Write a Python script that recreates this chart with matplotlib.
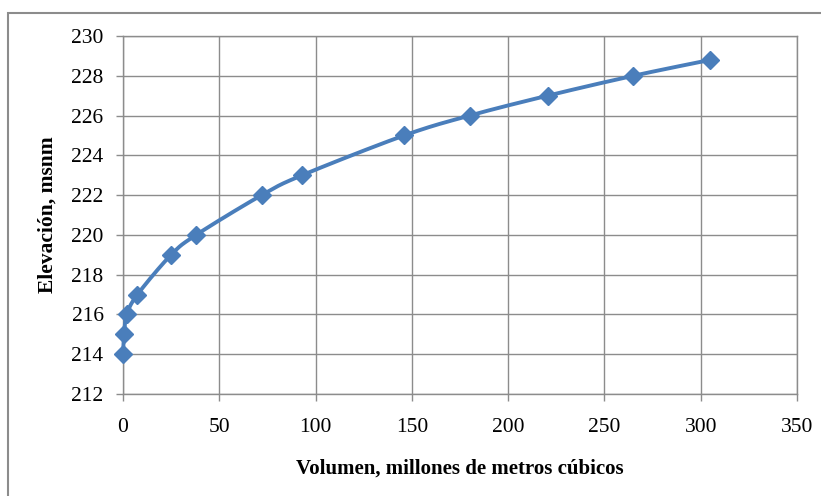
import numpy as np
import matplotlib.pyplot as plt
from matplotlib.patches import Rectangle

# Datos de la curva elevación-volumen
volumen = [0, 0.5, 2, 7.5, 25, 38, 72, 93, 146, 180, 220.5, 265, 305]
elevacion = [214, 215, 216, 217, 219, 220, 222, 223, 225, 226, 227, 228, 228.8]

x_ticks = [0, 50, 100, 150, 200, 250, 300, 350]
y_ticks = [212, 214, 216, 218, 220, 222, 224, 226, 228, 230]


def suavizar(px, py, n=30):
    # Curva tipo Catmull-Rom (similar a la línea suavizada de Excel)
    px = np.asarray(px, float)
    py = np.asarray(py, float)
    P = np.column_stack([px, py])
    P = np.vstack([P[0], P, P[-1]])
    out = []
    t = np.linspace(0, 1, n)
    for i in range(1, len(P) - 2):
        p0, p1, p2, p3 = P[i - 1], P[i], P[i + 1], P[i + 2]
        c1 = p1 + (p2 - p0) / 6
        c2 = p2 - (p3 - p1) / 6
        seg = ((1 - t) ** 3)[:, None] * p1 + (3 * (1 - t) ** 2 * t)[:, None] * c1 \
            + (3 * (1 - t) * t ** 2)[:, None] * c2 + (t ** 3)[:, None] * p2
        out.append(seg)
    out = np.vstack(out)
    return out[:, 0], out[:, 1]


plt.rcParams['font.family'] = ['Liberation Serif', 'DejaVu Serif']

fig = plt.figure(figsize=(8.21, 4.96), dpi=100)
ax = fig.add_axes([0.1498, 0.2056, 0.821, 0.7218])

sx, sy = suavizar(volumen, elevacion)
ax.plot(sx, sy, color='#4a7ebb', lw=2.8, zorder=3, clip_on=False)
ax.plot(volumen, elevacion, ls='none', marker='D', ms=9.5, color='#4a7ebb',
        zorder=4, clip_on=False)

ax.set_xlim(0, 350)
ax.set_ylim(212, 230)
ax.set_xticks(x_ticks)
ax.set_yticks(y_ticks)
ax.tick_params(labelsize=15.5, color='#8c8c8c', length=5, width=1, direction='out')
ax.tick_params(axis='x', pad=12)
ax.tick_params(axis='y', pad=9)
ax.grid(True, color='#8c8c8c', lw=1)
ax.set_axisbelow(True)
for s in ax.spines.values():
    s.set_color('#8c8c8c')
    s.set_linewidth(1)

ax.set_xlabel('Volumen, millones de metros cúbicos', fontsize=15, fontweight='bold', labelpad=16)
ax.set_ylabel('Elevación, msnm', fontsize=15.5, fontweight='bold', labelpad=10)

# Borde del área del gráfico
fig.patches.append(Rectangle((8 / 821, -0.1), 1.2, 1 - 13 / 496 + 0.1, transform=fig.transFigure,
                             fill=False, edgecolor='#8c8c8c', lw=1.5))

fig.savefig('out.png', dpi=100)
